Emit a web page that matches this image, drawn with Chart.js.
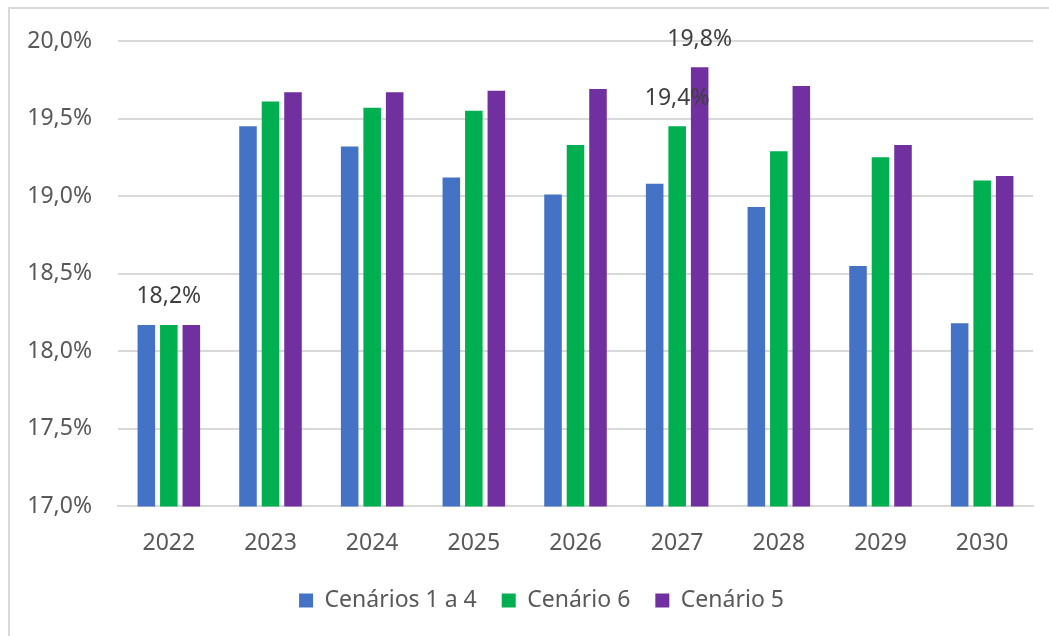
<!DOCTYPE html>
<html>
<head>
<meta charset="utf-8">
<script src="https://cdn.jsdelivr.net/npm/chart.js@4/dist/chart.umd.min.js"></script>
<style>
  html, body { margin: 0; padding: 0; background: #fff; overflow: hidden; }
  #frame { position: absolute; left: 8px; top: 7px; width: 1100px; height: 700px; border: 2px solid #d9d9d9; }
  #wrap { position: absolute; left: 0; top: 0; width: 1049px; height: 636px; }
</style>
</head>
<body>
<div id="frame"></div>
<div id="wrap"><canvas id="myChart"></canvas></div>
<script>
// anos e valores
var anos = ['2022', '2023', '2024', '2025', '2026', '2027', '2028', '2029', '2030'];
var cenarios14 = [18.17, 19.45, 19.32, 19.12, 19.01, 19.08, 18.93, 18.55, 18.18];
var cenario6   = [18.17, 19.61, 19.57, 19.55, 19.33, 19.45, 19.29, 19.25, 19.10];
var cenario5   = [18.17, 19.67, 19.67, 19.68, 19.69, 19.83, 19.71, 19.33, 19.13];

// rótulos mostrados só em alguns pontos
var rotulos14 = [null, null, null, null, null, null, null, null, null];
var rotulos6  = ['18,2%', null, null, null, null, '19,4%', null, null, null];
var rotulos5  = [null, null, null, null, null, '19,8%', null, null, null];

var fonte = "'Noto Sans', sans-serif";
var cinza = '#595959';

var pluginRotulos = {
    id: 'rotulos',
    afterLayout: function(chart) {
        // a legenda no original fica um pouco à direita do centro
        chart.legend.left += 25;
        chart.legend.right += 25;
    },
    afterDatasetsDraw: function(chart) {
        var ctx = chart.ctx;
        ctx.save();
        ctx.font = '23px ' + fonte;
        ctx.fillStyle = '#404040';
        ctx.textAlign = 'center';
        ctx.textBaseline = 'middle';
        chart.data.datasets.forEach(function(ds, i) {
            var meta = chart.getDatasetMeta(i);
            ds.rotulos.forEach(function(txt, j) {
                if (!txt) return;
                var bar = meta.data[j];
                ctx.fillText(txt, bar.x, bar.y - 28);
            });
        });
        ctx.restore();
    }
};

var ctx = document.getElementById('myChart').getContext('2d');
var myChart = new Chart(ctx, {
    type: 'bar',
    data: {
        labels: anos,
        datasets: [{
            label: 'Cenários 1 a 4',
            data: cenarios14,
            rotulos: rotulos14,
            backgroundColor: '#4472C4'
        },
        {
            label: 'Cenário 6',
            data: cenario6,
            rotulos: rotulos6,
            backgroundColor: '#00B050'
        },
        {
            label: 'Cenário 5',
            data: cenario5,
            rotulos: rotulos5,
            backgroundColor: '#7030A0'
        }]
    },
    options: {
        responsive: true,
        maintainAspectRatio: false,
        animation: false,
        categoryPercentage: 0.664,
        barPercentage: 0.78,
        layout: {
            padding: { top: 41, right: 16, left: 0, bottom: 14 }
        },
        scales: {
            x: {
                grid: { display: false, drawTicks: false },
                border: { color: '#d9d9d9', width: 2 },
                ticks: { color: cinza, font: { family: fonte, size: 23 }, padding: 23 },
                afterFit: function(scale) { scale.height -= 16; }
            },
            y: {
                min: 17,
                max: 20,
                grid: { color: '#d9d9d9', lineWidth: 2, drawTicks: false },
                border: { display: false },
                ticks: {
                    stepSize: 0.5,
                    color: cinza,
                    padding: 26,
                    font: { family: fonte, size: 23 },
                    callback: function(v) { return v.toFixed(1).replace('.', ',') + '%'; }
                },
                afterFit: function(scale) { scale.width = 118; }
            }
        },
        plugins: {
            legend: {
                position: 'bottom',
                labels: {
                    color: cinza,
                    font: { family: fonte, size: 23 },
                    boxWidth: 14,
                    boxHeight: 14,
                    padding: 25
                }
            },
            tooltip: { enabled: false }
        }
    },
    plugins: [pluginRotulos]
});
</script>
</body>
</html>
